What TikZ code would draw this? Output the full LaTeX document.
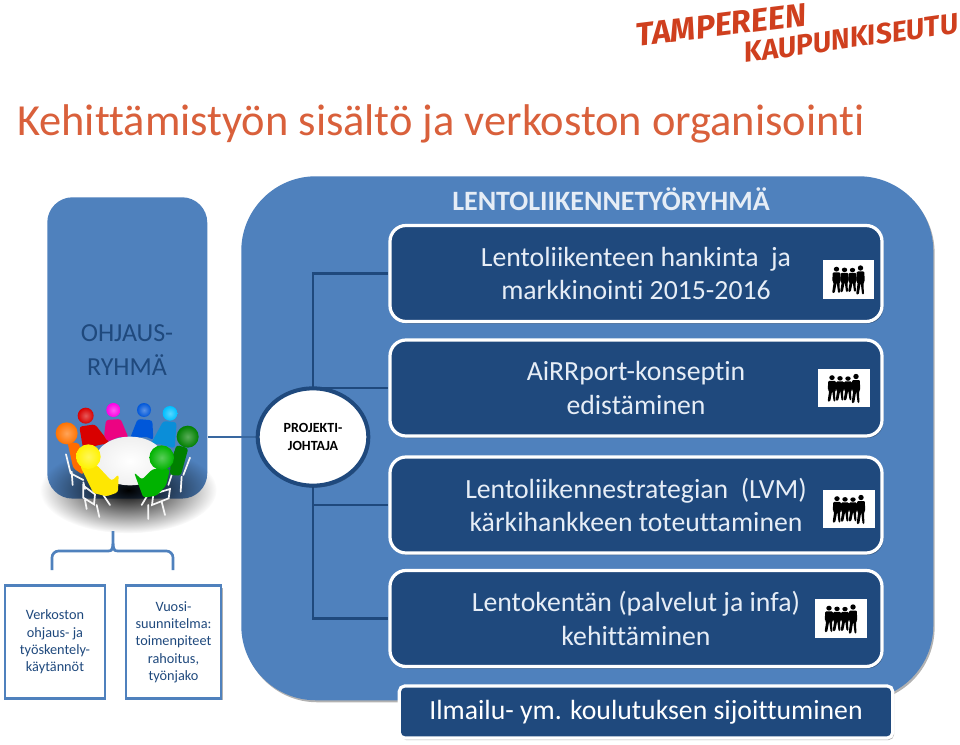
\documentclass[tikz,border=0pt]{standalone}
\usepackage{fontspec}
\setmainfont[Ligatures={NoCommon}]{Carlito}
\newfontfamily\logofont{Fira Sans}
\usetikzlibrary{shadows,shapes.geometric,fadings}
\definecolor{panelblue}{HTML}{4F81BD}
\definecolor{navy}{HTML}{1F497D}
\definecolor{titlecol}{HTML}{D9603B}
\definecolor{logored}{HTML}{CF3F1E}
\definecolor{paletext}{HTML}{E6EDF6}
\newcommand{\fs}[2]{\fontsize{#1pt}{#2pt}\selectfont}
\newcommand{\headball}[4]{\shade[inner color=#4!65!white,outer color=#4] (#1,#2) circle[radius=#3];}
\pgfdeclarelayer{under}
\pgfdeclarelayer{links}
\pgfsetlayers{under,links,main}
\tikzfading[name=softspot,inner color=transparent!0,outer color=transparent!100]
\tikzset{
  x=0.75pt,y=-0.75pt,
  softshadow/.style={drop shadow={shadow xshift=1pt,shadow yshift=-1.5pt,opacity=.3,fill=black}},
  taskbox/.style={draw=white,line width=2.4pt,fill=navy,rounded corners=12pt,minimum width=369pt,minimum height=72pt,
    align=center,text=paletext,font=\fs{20.8}{25},softshadow,inner sep=0pt},
  notebox/.style={draw=panelblue,line width=1.9pt,fill=white,align=center,text=navy,font=\fs{10.7}{13},inner sep=0pt,softshadow},
  link/.style={draw=navy,line width=2pt},
  crowdbox/.style={fill=white,minimum width=38.5pt,minimum height=29pt,inner sep=0pt},
  chair/.style={draw=white!92!gray,line width=1.3pt,line cap=round},
  limb/.style={rounded corners=2pt},
  pics/crowd/.style={code={
    \foreach \dx/\s in {-12/0.9,-4/0.84,4/0.82,12/1.0}{
      \begin{scope}[shift={(\dx,0)},yscale=\s]
        \fill[black] (0,-11.5) circle[radius=2.7];
        \fill[black,rounded corners=0.8pt] (-3.8,-8) -- (3.8,-8) -- (4.2,2) -- (3,3) -- (3.4,15) -- (1.6,15) -- (0.2,3) -- (-1.8,15) -- (-4.4,15) -- (-2.8,3) -- (-4.2,2) -- cycle;
      \end{scope}
    }
  }}
}
\begin{document}
\begin{tikzpicture}
\useasboundingbox (0,0) rectangle (960,745);

% logo
\node[rotate=7,text=logored,font=\logofont\bfseries\itshape\fs{24.5}{26},inner sep=0pt] (logoa) at (721,25) {TAMPEREEN};
\node[rotate=8,text=logored,font=\logofont\bfseries\itshape\fs{21.5}{23},inner sep=0pt] (logob) at (851,38) {KAUPUNKISEUTU};

% title
\node[anchor=west,text=titlecol,font=\fs{33.3}{36},inner sep=0pt] (title) at (17,124) {Kehittämistyön sisältö ja verkoston organisointi};

\begin{pgfonlayer}{under}
\fill[white] (0,0) rectangle (960,745);
\node[fill=panelblue,rounded corners=56pt,minimum width=519pt,minimum height=393pt,inner sep=0pt,anchor=north west,softshadow] (panel) at (241,176) {};
\node[fill=panelblue,rounded corners=19pt,minimum width=120pt,minimum height=226pt,inner sep=0pt,anchor=north west] (steer) at (47,197) {};
\end{pgfonlayer}
\node[text=paletext,font=\bfseries\fs{21}{25},inner sep=0pt] (panelhead) at (611,199) {LENTOLIIKENNETYÖRYHMÄ};
\node[text=navy,font=\fs{19.5}{25},align=center,inner sep=0pt] (steerlabel) at (127,350) {OHJAUS-\\RYHMÄ};

% meeting picture, drawn in the coordinates of a 3x crop
\begin{scope}[shift={(40,395)},x=0.25pt,y=-0.25pt]
  \fill[black,path fading=softspot] (265,285) ellipse[x radius=265,y radius=130];
  % back chairs
  \draw[chair] (78,178) -- (92,235) (95,230) -- (98,270) (130,262) -- (135,282) (92,235) -- (130,255);
  \draw[chair] (450,188) -- (430,240) (425,245) -- (422,290) (395,240) -- (385,270);
  % back row
  \fill[orange!85!red,limb] (82,140) -- (118,145) -- (130,240) -- (100,220) -- cycle;
  \headball{80}{115}{33}{orange!90!red}
  \fill[red!85!black,limb] (118,95) -- (165,88) -- (210,145) -- (175,150) -- (130,165) -- cycle;
  \headball{137}{62}{24}{red!85!black}
  \fill[magenta!90!red,limb] (198,75) -- (242,72) -- (266,130) -- (240,125) -- (205,140) -- (192,125) -- cycle;
  \headball{220}{45}{21}{magenta!90!red}
  \fill[blue!60!cyan!85!black,limb] (293,72) -- (337,76) -- (340,135) -- (320,125) -- (295,128) -- (268,135) -- cycle;
  \headball{312}{45}{21}{blue!60!cyan!85!black}
  \fill[cyan!75!blue,limb] (370,78) -- (410,82) -- (404,160) -- (350,145) -- (328,155) -- cycle;
  \headball{390}{55}{22}{cyan!75!blue}
  \fill[green!50!black,limb] (410,150) -- (445,160) -- (422,242) -- (390,240) -- (392,200) -- cycle;
  \headball{443}{125}{33}{green!50!black}
  % table
  \shade[inner color=white,outer color=white!88!gray] (270,198) ellipse[x radius=105,y radius=73];
  % front chairs
  \draw[chair] (130,272) -- (165,298) -- (162,328) -- (130,308) -- cycle (135,315) -- (140,342) (170,330) -- (178,366) (190,300) -- (210,330);
  \draw[chair] (340,297) -- (390,282) -- (386,310) -- (336,330) -- cycle (325,330) -- (325,372) (365,320) -- (375,360) (320,305) -- (305,330);
  % front row
  \fill[yellow!90!orange,limb] (120,212) -- (170,210) -- (215,258) -- (236,238) -- (234,292) -- (200,304) -- (160,294) -- cycle;
  \headball{145}{185}{37}{yellow!90!orange}
  \fill[green!70!black,limb] (338,222) -- (390,222) -- (378,272) -- (350,302) -- (310,308) -- (282,232) -- (306,254) -- cycle;
  \headball{365}{188}{37}{green!70!black}
\end{scope}

% notes
\node[notebox,minimum width=75pt,minimum height=84.5pt] (noteA) at (55,642) {Verkoston\\ohjaus- ja\\työskentely-\\käytännöt};
\node[notebox,minimum width=71.5pt,minimum height=84.5pt] (noteB) at (173.5,642) {Vuosi-\\suunnitelma:\\toimenpiteet\\rahoitus,\\työnjako};
\coordinate (bA) at (52,570);
\coordinate (bB) at (173,570);
\coordinate (bT) at (113,531);
\draw[draw=panelblue,line width=2pt,rounded corners=5pt] (bA) -- (52,551) -- (109,551);
\draw[draw=panelblue,line width=2pt,rounded corners=5pt] (bB) -- (173,551) -- (117,551);
\draw[draw=panelblue,line width=2pt] (109,551) .. controls (113,551) and (113,548) .. (bT) .. controls (113,548) and (113,551) .. (117,551);

% project manager
\node[ellipse,draw=navy,line width=3pt,fill=white,minimum width=83pt,minimum height=73pt,inner sep=0pt,align=center,font=\bfseries\fs{10.5}{13},softshadow] (pm) at (313,437) {PROJEKTI-\\JOHTAJA};

% boxes
\node[taskbox] (t1) at (636,273.5) {Lentoliikenteen hankinta\ \ ja\\markkinointi 2015-2016};
\node[taskbox] (t2) at (636,388) {AiRRport-konseptin\\edistäminen};
\node[taskbox] (t3) at (636,505) {Lentoliikennestrategian\ \ (LVM)\\kärkihankkeen toteuttaminen};
\node[taskbox] (t4) at (636,618.5) {Lentokentän (palvelut ja infa)\\kehittäminen};
\node[draw=white,line width=2.4pt,fill=navy,rounded corners=4pt,minimum width=370pt,minimum height=39pt,text=white,font=\fs{20.8}{25},inner sep=0pt,softshadow] (t5) at (646,712) {Ilmailu- ym. koulutuksen sijoittuminen};

% connectors
\begin{pgfonlayer}{links}
\draw[draw=panelblue!55!navy,line width=2pt] (steer.east |- pm.west) -- (pm.west);
\draw[link] (pm.center) -- (pm.center |- t1.west) -- (t1.west);
\draw[link] (pm.center |- t2.west) -- (t2.west);
\draw[link] (pm.center) -- (pm.center |- t4.west) -- (t4.west);
\draw[link] (pm.center |- t3.west) -- (t3.west);
\end{pgfonlayer}

% crowds
\node[crowdbox] (c1) at (848.5,279.5) {};
\pic at (c1.center) {crowd};
\node[crowdbox] (c2) at (844,388) {};
\pic at (c2.center) {crowd};
\node[crowdbox] (c3) at (849,509) {};
\pic at (c3.center) {crowd};
\node[crowdbox] (c4) at (841,618.5) {};
\pic at (c4.center) {crowd};
\end{tikzpicture}
\end{document}
